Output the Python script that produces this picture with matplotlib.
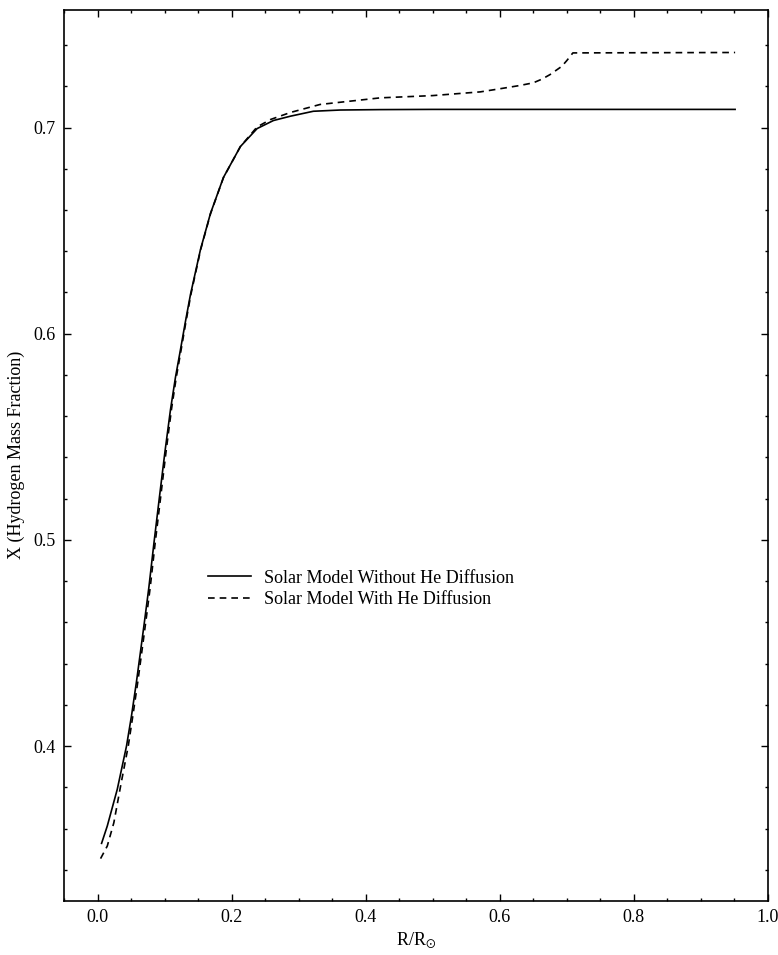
import matplotlib.pyplot as plt
from matplotlib.ticker import MultipleLocator

# Radius (R/Rsun) and hydrogen mass fraction
r_nodiff = [0.006, 0.0145, 0.0294, 0.0432, 0.0507, 0.0581, 0.0641, 0.070, 0.0765,
            0.0842, 0.0924, 0.1006, 0.1088, 0.1162, 0.1237, 0.1311, 0.1386, 0.1535,
            0.1684, 0.1878, 0.2131, 0.238, 0.2623, 0.2876, 0.3219, 0.3621, 0.4218,
            0.5, 0.951]
x_nodiff = [0.3528, 0.3612, 0.3790, 0.4000, 0.4148, 0.4313, 0.4459, 0.4604, 0.4768,
            0.4987, 0.5210, 0.5429, 0.5632, 0.5788, 0.5923, 0.6059, 0.6190, 0.6408,
            0.6583, 0.6758, 0.6908, 0.6995, 0.7034, 0.7055, 0.7079, 0.7085, 0.7087,
            0.7088, 0.7088]

r_diff = [0.0045, 0.0145, 0.0243, 0.0353, 0.0458, 0.0527, 0.0601, 0.0661, 0.072,
          0.0785, 0.086, 0.0942, 0.1022, 0.1102, 0.1174, 0.1247, 0.1319, 0.1392,
          0.1538, 0.1686, 0.1879, 0.2131, 0.238, 0.258, 0.2876, 0.332, 0.4217, 0.5,
          0.571, 0.6, 0.63, 0.65, 0.663, 0.675, 0.6925, 0.70, 0.709, 0.951]
x_diff = [0.3454, 0.3515, 0.3628, 0.3822, 0.4000, 0.4148, 0.4313, 0.4459, 0.4604,
          0.4768, 0.4987, 0.5210, 0.5429, 0.5632, 0.5788, 0.5923, 0.6059, 0.6190,
          0.6408, 0.6583, 0.6758, 0.6908, 0.7003, 0.7039, 0.7073, 0.7112, 0.7144, 0.7155,
          0.7173, 0.7188, 0.7204, 0.7217, 0.7235, 0.7257, 0.7297, 0.7325, 0.7362, 0.7364]

labels = ['Solar Model Without He Diffusion', 'Solar Model With He Diffusion']

plt.rcParams['font.family'] = 'Liberation Serif'
plt.rcParams['mathtext.fontset'] = 'stix'

fig = plt.figure(figsize=(7.78, 9.55), dpi=100)
ax = fig.add_axes([0.0823, 0.0569, 0.9048, 0.9326])

ax.plot(r_nodiff, x_nodiff, color='black', linewidth=1.2, label=labels[0])
ax.plot(r_diff, x_diff, color='black', linewidth=1.2, dashes=(4, 3), label=labels[1])

ax.set_xlim(-0.05, 1.0)
ax.set_ylim(0.325, 0.757)
ax.xaxis.set_major_locator(MultipleLocator(0.2))
ax.xaxis.set_minor_locator(MultipleLocator(0.05))
ax.yaxis.set_major_locator(MultipleLocator(0.1))
ax.yaxis.set_minor_locator(MultipleLocator(0.02))
ax.tick_params(which='both', direction='in', top=True, right=True, labelsize=13, pad=6)
ax.tick_params(which='major', length=5, width=1)
ax.tick_params(which='minor', length=2.5, width=1)
for s in ax.spines.values():
	s.set_linewidth(1.2)

ax.set_xlabel(r'R/R$_{\odot}$', fontsize=13, labelpad=3)
ax.set_ylabel('X (Hydrogen Mass Fraction)', fontsize=13, labelpad=6)

#Legend with no frame sitting inside the plot
ax.legend(loc='center left', bbox_to_anchor=(0.2045, 0.35), frameon=False, fontsize=13,
          handlelength=2.4, handletextpad=0.7, borderpad=0, borderaxespad=0,
          labelspacing=0.25)

fig.savefig('out.png', dpi=100)
